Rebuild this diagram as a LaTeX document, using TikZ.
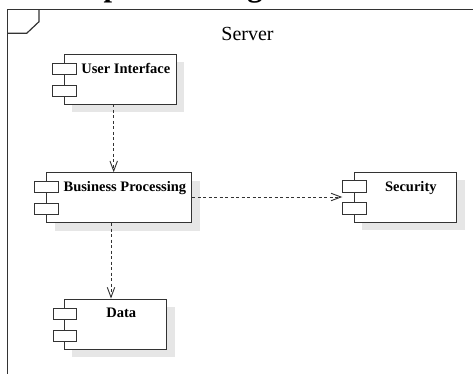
\documentclass[tikz,border=0pt]{standalone}
\usepackage{fontspec}
\setmainfont{Liberation Serif}
\usetikzlibrary{arrows.meta,shadows,positioning}
\definecolor{linec}{HTML}{333333}
\definecolor{shadowc}{HTML}{E6E6E6}
\tikzset{
  comp/.style={draw=linec, line width=0.9pt, fill=white, inner sep=0pt,
    drop shadow={shadow xshift=8pt, shadow yshift=-8pt, fill=shadowc, opacity=1}},
  port/.style={draw=linec, line width=0.9pt, fill=white, inner sep=0pt,
    minimum width=23.4pt, minimum height=11.3pt, anchor=north west},
  ctext/.style={font=\bfseries\fontsize{14.5}{17}\selectfont, anchor=base, inner sep=0pt},
  dep/.style={draw=linec, line width=0.9pt, dash pattern=on 3pt off 2.5pt,
    -{Straight Barb[length=10pt,width=7.5pt,line width=0.9pt]}},
  frame/.style={draw=linec, line width=1.2pt}
}
\begin{document}
\begin{tikzpicture}[x=1pt,y=-1pt]
\useasboundingbox (0,0) rectangle (473,374);
\clip (0,0) rectangle (473,374);
\fill[white] (0,0) rectangle (473,374);
% title (cut off at the top)
\node[font=\bfseries\fontsize{30.6}{36}\selectfont, anchor=base west, inner sep=0pt] (title) at (40.5,-3.3) {Component Diagram};
% frame
\draw[frame] (7.7,400) -- (7.7,9.7) -- (500,9.7);
\draw[frame] (7.7,33.3) -- (26.7,33.3) -- (39,21.7) -- (39,9.7);
\node[font=\fontsize{20}{24}\selectfont, anchor=base, inner sep=0pt] (server) at (247.5,41) {Server};
% components
\node[comp, minimum width=111.7pt, minimum height=49.7pt] (ui) at (120.15,79.15) {};
\node[comp, minimum width=145pt, minimum height=50pt] (bp) at (119.2,197.7) {};
\node[comp, minimum width=102.4pt, minimum height=50pt] (data) at (115.5,324) {};
\node[comp, minimum width=102.7pt, minimum height=50.3pt] (sec) at (405.35,197.15) {};
% ports
\node[port] (ui1) at (52.3,62.7) {};
\node[port] (ui2) at (52.3,85) {};
\node[port] (bp1) at (34.3,180.7) {};
\node[port] (bp2) at (34.3,202.7) {};
\node[port] (data1) at (52.7,307.7) {};
\node[port] (data2) at (52.7,330) {};
\node[port] (sec1) at (342.3,180.3) {};
\node[port] (sec2) at (342.3,202.3) {};
% labels
\node[ctext] (uit) at (125.8,73.3) {User Interface};
\node[ctext] (bpt) at (124.9,191.7) {Business Processing};
\node[ctext] (datat) at (121.2,317.5) {Data};
\node[ctext] (sect) at (410.8,191.7) {Security};
% connector columns
\coordinate (c1) at (113.7,0);
\coordinate (c2) at (111,0);
\coordinate (r1) at (0,197);
\draw[dep] (ui.south -| c1) -- (bp.north -| c1);
\draw[dep] (bp.south -| c2) -- (data.north -| c2);
\draw[dep] (bp.east |- r1) -- (sec1.west |- r1);
\end{tikzpicture}
\end{document}
